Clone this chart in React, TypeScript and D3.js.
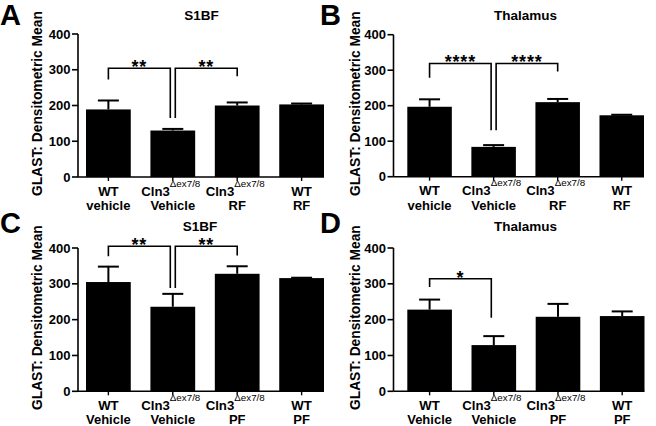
import React from "react";
import * as d3 from "d3";

// ---- data ----
const genotypes = ["WT", "Cln3", "Cln3", "WT"];
const genotypeSup = ["", "Δex7/8", "Δex7/8", ""];
const treatmentsRF = ["vehicle", "Vehicle", "RF", "RF"];
const treatmentsPF = ["Vehicle", "Vehicle", "PF", "PF"];
const yTicks = [0, 100, 200, 300, 400];

const meansA = [189, 130, 200, 203];
const semA = [25, 4.5, 8.5, 2.5];
const meansB = [197, 84, 210, 173];
const semB = [21, 5, 9, 1.5];
const meansC = [305, 236, 328, 316];
const semC = [43, 36, 21, 1];
const meansD = [228, 129, 208, 210];
const semD = [28, 25, 36, 13];

// brackets: [fromIndex, toIndex, top value, left leg bottom value, right leg bottom value, label]
type Br = [number, number, number, number, number, string];
const bracketsA: Br[] = [
  [0, 1, 304, 273, 165, "**"],
  [1, 2, 304, 165, 282, "**"],
];
const bracketsB: Br[] = [
  [0, 1, 319, 279, 131, "****"],
  [1, 2, 319, 131, 296, "****"],
];
const bracketsC: Br[] = [
  [0, 1, 405, 377, 288, "**"],
  [1, 2, 405, 288, 379, "**"],
];
const bracketsD: Br[] = [[0, 1, 314, 291, 205, "*"]];

const FONT = "'Liberation Sans', Arial, Helvetica, sans-serif";

type PanelProps = {
  letter: string;
  letterX: number;
  letterY: number;
  title: string;
  titleX: number;
  titleY: number;
  axisX: number;
  axisEnd: number;
  barStart: number;
  yTop: number;
  yBottom: number;
  labelX: number;
  means: number[];
  sems: number[];
  treatments: string[];
  brackets: Br[];
};

function Panel(p: PanelProps) {
  const x = d3
    .scaleBand<number>()
    .domain(d3.range(p.means.length))
    .range([p.barStart, p.axisEnd])
    .paddingInner(0.305)
    .paddingOuter(0);
  const y = d3.scaleLinear().domain([0, 400]).range([p.yBottom, p.yTop]);
  const bw = x.bandwidth();
  const cx = (i: number) => (x(i) as number) + bw / 2;
  const capHalf = 10.5;
  const innerSplit = 2.5;

  return (
    <g fontFamily={FONT} fontWeight="bold" fill="#000">
      <text x={p.letterX} y={p.letterY} fontSize={29}>
        {p.letter}
      </text>
      <text x={p.titleX} y={p.titleY} fontSize={13.5} textAnchor="middle">
        {p.title}
      </text>
      <text
        transform={`translate(${p.labelX},${(p.yTop + p.yBottom) / 2 - 2}) rotate(-90)`}
        fontSize={13.8}
        textAnchor="middle"
      >
        GLAST: Densitometric Mean
      </text>

      {/* bars */}
      {p.means.map((m, i) => (
        <g key={i}>
          <rect x={x(i)} y={y(m)} width={bw} height={y(0) - y(m)} fill="#000" />
          <line x1={cx(i)} x2={cx(i)} y1={y(m)} y2={y(m + p.sems[i])} stroke="#000" strokeWidth={2} />
          <line
            x1={cx(i) - capHalf}
            x2={cx(i) + capHalf}
            y1={y(m + p.sems[i])}
            y2={y(m + p.sems[i])}
            stroke="#000"
            strokeWidth={2}
          />
        </g>
      ))}

      {/* y axis */}
      <line x1={p.axisX} x2={p.axisX} y1={y(0)} y2={y(400)} stroke="#000" strokeWidth={1.6} />
      {yTicks.map((t) => (
        <g key={t}>
          <line x1={p.axisX - 6} x2={p.axisX} y1={y(t)} y2={y(t)} stroke="#000" strokeWidth={1.6} />
          <text x={p.axisX - 7.5} y={y(t) + 4.5} fontSize={13} textAnchor="end">
            {t}
          </text>
        </g>
      ))}

      {/* x axis */}
      <line x1={p.axisX} x2={p.axisEnd} y1={y(0)} y2={y(0)} stroke="#000" strokeWidth={1.6} />
      {p.means.map((_, i) => (
        <g key={i}>
          <line x1={cx(i)} x2={cx(i)} y1={y(0)} y2={y(0) + 4} stroke="#000" strokeWidth={1.4} />
          <text x={cx(i) - (genotypeSup[i] ? 2 : 0)} y={y(0) + 18.5} fontSize={13.2} textAnchor="middle">
            <tspan>{genotypes[i]}</tspan>
            {genotypeSup[i] ? (
              <tspan dy={-9} fontSize={9.8} fontWeight="normal">
                {genotypeSup[i]}
              </tspan>
            ) : null}
          </text>
          <text x={cx(i)} y={y(0) + 33} fontSize={13} textAnchor="middle">
            {p.treatments[i]}
          </text>
        </g>
      ))}

      {/* significance brackets */}
      {p.brackets.map(([a, b, top, lb, rb, lab], k) => {
        const xa = cx(a) + (a === 1 ? innerSplit : 0);
        const xb = cx(b) - (b === 1 ? innerSplit : 0);
        return (
          <g key={k}>
            <path
              d={`M${xa},${y(lb)}V${y(top)}H${xb}V${y(rb)}`}
              fill="none"
              stroke="#000"
              strokeWidth={1.6}
            />
            <text
              x={(xa + xb) / 2}
              y={y(top) + 5}
              fontSize={18}
              letterSpacing={0.8}
              textAnchor="middle"
            >
              {lab}
            </text>
          </g>
        );
      })}
    </g>
  );
}

export default function App() {
  return (
    <svg
      width={656}
      height={426}
      style={{ position: "absolute", left: 0, top: 0, background: "#fff" }}
    >
      <rect width={656} height={426} fill="#fff" />
      <Panel
        letter="A"
        letterX={0}
        letterY={25}
        title="S1BF"
        titleX={201.5}
        titleY={20}
        axisX={78}
        axisEnd={324}
        barStart={86}
        yTop={34}
        yBottom={177}
        labelX={41.5}
        means={meansA}
        sems={semA}
        treatments={treatmentsRF}
        brackets={bracketsA}
      />
      <Panel
        letter="B"
        letterX={320}
        letterY={25}
        title="Thalamus"
        titleX={525.5}
        titleY={20}
        axisX={393.5}
        axisEnd={644}
        barStart={407.3}
        yTop={34.7}
        yBottom={176.7}
        labelX={359.5}
        means={meansB}
        sems={semB}
        treatments={treatmentsRF}
        brackets={bracketsB}
      />
      <Panel
        letter="C"
        letterX={0}
        letterY={233}
        title="S1BF"
        titleX={200}
        titleY={231}
        axisX={78}
        axisEnd={324}
        barStart={86}
        yTop={248}
        yBottom={391.3}
        labelX={41.5}
        means={meansC}
        sems={semC}
        treatments={treatmentsPF}
        brackets={bracketsC}
      />
      <Panel
        letter="D"
        letterX={320}
        letterY={233}
        title="Thalamus"
        titleX={525.5}
        titleY={231}
        axisX={393.5}
        axisEnd={644.5}
        barStart={407.3}
        yTop={248}
        yBottom={391.3}
        labelX={359.5}
        means={meansD}
        sems={semD}
        treatments={treatmentsPF}
        brackets={bracketsD}
      />
    </svg>
  );
}
